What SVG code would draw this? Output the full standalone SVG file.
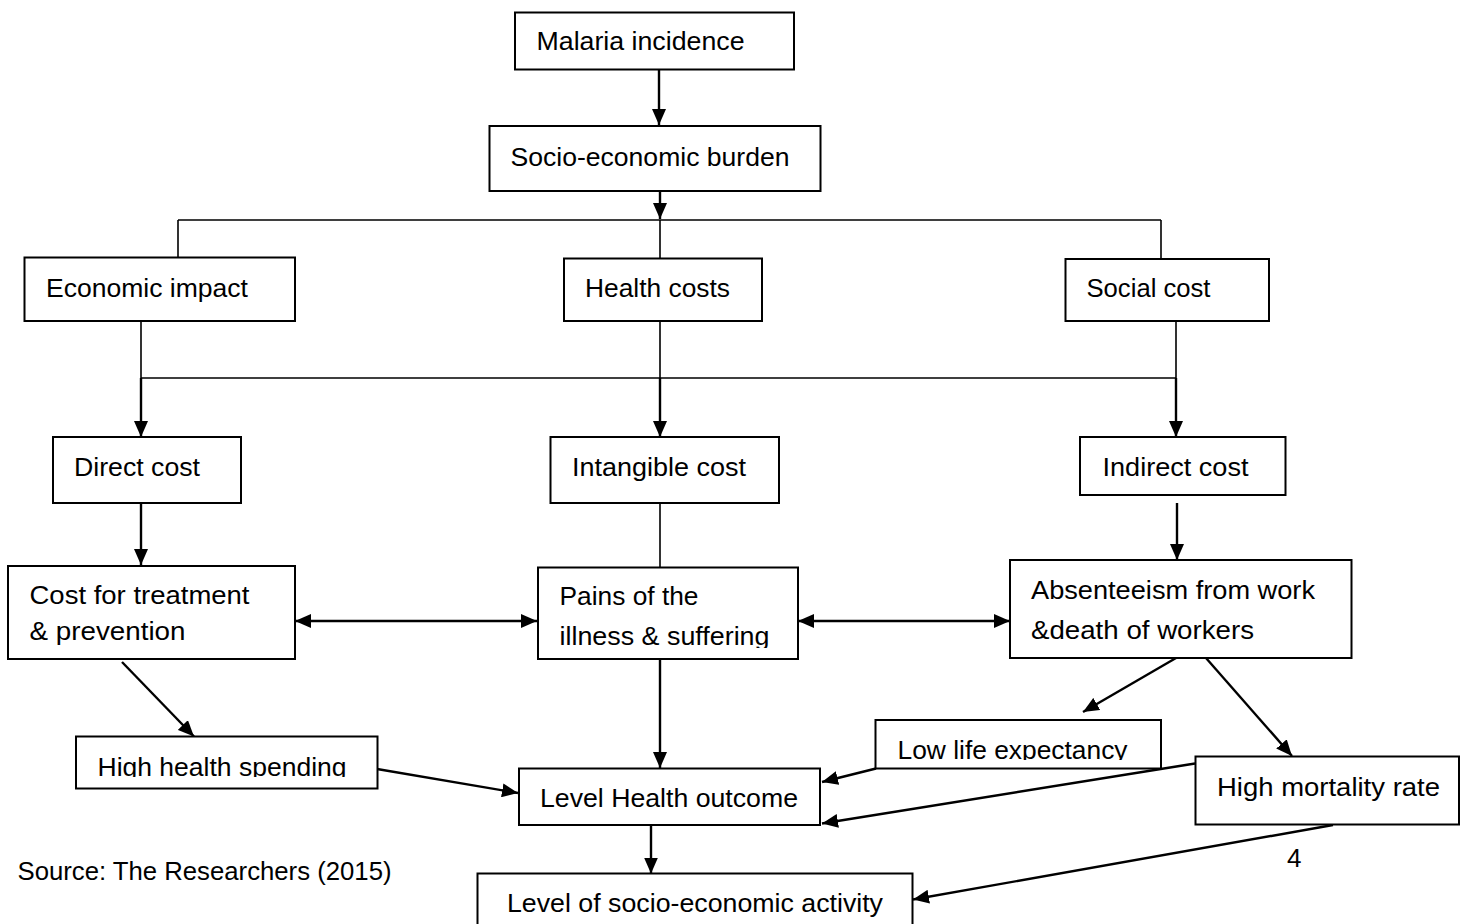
<svg xmlns="http://www.w3.org/2000/svg" width="1460" height="924" viewBox="0 0 1460 924">
<style>
.box{fill:#fff;stroke:#000;stroke-width:2}
.t{font-family:"Liberation Sans",Arial,sans-serif;font-size:26px;fill:#000}
.ln{fill:none;stroke:#000;stroke-width:1.6}
.ar{fill:none;stroke:#000;stroke-width:2.4;marker-end:url(#ah)}
.da{fill:none;stroke:#000;stroke-width:2.4;marker-end:url(#ah);marker-start:url(#ah)}
</style>
<defs>
<marker id="ah" viewBox="0 0 16 14" refX="16" refY="7" markerWidth="16" markerHeight="14" markerUnits="userSpaceOnUse" orient="auto-start-reverse">
<path d="M0,0 L16,7 L0,14 Z" fill="#000"/>
</marker>
<clipPath id="cPains"><rect x="538" y="567" width="260" height="81"/></clipPath>
<clipPath id="cHigh"><rect x="76" y="736" width="302" height="41"/></clipPath>
<clipPath id="cLow"><rect x="875" y="720" width="286" height="40"/></clipPath>
</defs>
<rect width="1460" height="924" fill="#fff"/>
<g id="connectors">
<path class="ar" d="M659,69 L659,125"/>
<path class="ar" d="M660,191 L660,219"/>
<path class="ln" d="M178,220 L1161,220 M178,220 L178,257 M660,220 L660,258 M1161,220 L1161,259"/>
<path class="ln" d="M141,321 L141,378 L1176,378 M1176,321 L1176,378 M660,321 L660,378"/>
<path class="ar" d="M141,378 L141,437"/>
<path class="ar" d="M660,378 L660,437"/>
<path class="ar" d="M1176,378 L1176,437"/>
<path class="ar" d="M141,503 L141,565"/>
<path class="ln" d="M660,503 L660,567"/>
<path class="ar" d="M1177,503 L1177,560"/>
<path class="da" d="M295,621 L537,621"/>
<path class="da" d="M798,621 L1010,621"/>
<path class="ar" d="M122,662 L194,736.5"/>
<path class="ar" d="M660,659 L660,768"/>
<path class="ar" d="M1176,658 L1083,712"/>
<path class="ar" d="M1206,658 L1292,756"/>
<path class="ar" d="M377,769 L518,793"/>
<path class="ar" d="M876,768.5 L822,782"/>
<path class="ar" d="M1195,763.5 L822,823.5"/>
<path class="ar" d="M651,825 L651,873.5"/>
<path class="ar" d="M1333,825 L913,899.5"/>
</g>
<g id="malaria-incidence">
<rect class="box" x="515" y="12.5" width="279" height="57"/>
<text class="t" x="536.5" y="50" textLength="208" lengthAdjust="spacingAndGlyphs">Malaria incidence</text>
</g>
<g id="socio-economic-burden">
<rect class="box" x="489.5" y="126" width="331" height="65"/>
<text class="t" x="510.5" y="165.5" textLength="279" lengthAdjust="spacingAndGlyphs">Socio-economic burden</text>
</g>
<g id="economic-impact">
<rect class="box" x="24.5" y="257.5" width="270.5" height="63.5"/>
<text class="t" x="46" y="297" textLength="202" lengthAdjust="spacingAndGlyphs">Economic impact</text>
</g>
<g id="health-costs">
<rect class="box" x="564" y="258.5" width="198" height="62.5"/>
<text class="t" x="585" y="297" textLength="145" lengthAdjust="spacingAndGlyphs">Health costs</text>
</g>
<g id="social-cost">
<rect class="box" x="1065.5" y="259" width="203.5" height="62"/>
<text class="t" x="1086.5" y="297" textLength="124" lengthAdjust="spacingAndGlyphs">Social cost</text>
</g>
<g id="direct-cost">
<rect class="box" x="53" y="437" width="188" height="66"/>
<text class="t" x="74" y="476" textLength="126" lengthAdjust="spacingAndGlyphs">Direct cost</text>
</g>
<g id="intangible-cost">
<rect class="box" x="550.5" y="437" width="228.5" height="66"/>
<text class="t" x="572" y="476" textLength="174" lengthAdjust="spacingAndGlyphs">Intangible cost</text>
</g>
<g id="indirect-cost">
<rect class="box" x="1080" y="437" width="205.5" height="58"/>
<text class="t" x="1102.5" y="476" textLength="146" lengthAdjust="spacingAndGlyphs">Indirect cost</text>
</g>
<g id="cost-treatment-prevention">
<rect class="box" x="8" y="566" width="287" height="93"/>
<text class="t" x="29.5" y="603.5" textLength="220" lengthAdjust="spacingAndGlyphs">Cost for treatment</text>
<text class="t" x="29.5" y="639.5" textLength="156" lengthAdjust="spacingAndGlyphs">&amp; prevention</text>
</g>
<g id="pains-illness-suffering">
<rect class="box" x="538" y="567.5" width="260" height="91.5"/>
<g clip-path="url(#cPains)">
<text class="t" x="559.5" y="605" textLength="139" lengthAdjust="spacingAndGlyphs">Pains of the</text>
<text class="t" x="559.5" y="645" textLength="210" lengthAdjust="spacingAndGlyphs">illness &amp; suffering</text>
</g>
</g>
<g id="absenteeism-death-workers">
<rect class="box" x="1010" y="560" width="341.5" height="98"/>
<text class="t" x="1031" y="598.5" textLength="284" lengthAdjust="spacingAndGlyphs">Absenteeism from work</text>
<text class="t" x="1031" y="638.5" textLength="223" lengthAdjust="spacingAndGlyphs">&amp;death of workers</text>
</g>
<g id="high-health-spending">
<rect class="box" x="76" y="736.5" width="301.5" height="52"/>
<g clip-path="url(#cHigh)">
<text class="t" x="97.5" y="776" textLength="249" lengthAdjust="spacingAndGlyphs">High health spending</text>
</g>
</g>
<g id="low-life-expectancy">
<rect class="box" x="875.5" y="720" width="285.5" height="48.5"/>
<g clip-path="url(#cLow)">
<text class="t" x="897.5" y="758.5" textLength="230" lengthAdjust="spacingAndGlyphs">Low life expectancy</text>
</g>
</g>
<g id="high-mortality-rate">
<rect class="box" x="1195.5" y="756.5" width="263.5" height="68"/>
<text class="t" x="1217" y="795.5" textLength="223" lengthAdjust="spacingAndGlyphs">High mortality rate</text>
</g>
<g id="level-health-outcome">
<rect class="box" x="519" y="768.5" width="301" height="56.5"/>
<text class="t" x="540" y="806.5" textLength="258" lengthAdjust="spacingAndGlyphs">Level Health outcome</text>
</g>
<g id="level-socio-economic-activity">
<rect class="box" x="477.5" y="873.5" width="435" height="60"/>
<text class="t" x="507" y="911.5" textLength="376" lengthAdjust="spacingAndGlyphs">Level of socio-economic activity</text>
</g>
<g id="source">
<text class="t" x="17.5" y="880" textLength="374" lengthAdjust="spacingAndGlyphs">Source: The Researchers (2015)</text>
</g>
<g id="page-number">
<text class="t" x="1287" y="867">4</text>
</g>
</svg>
